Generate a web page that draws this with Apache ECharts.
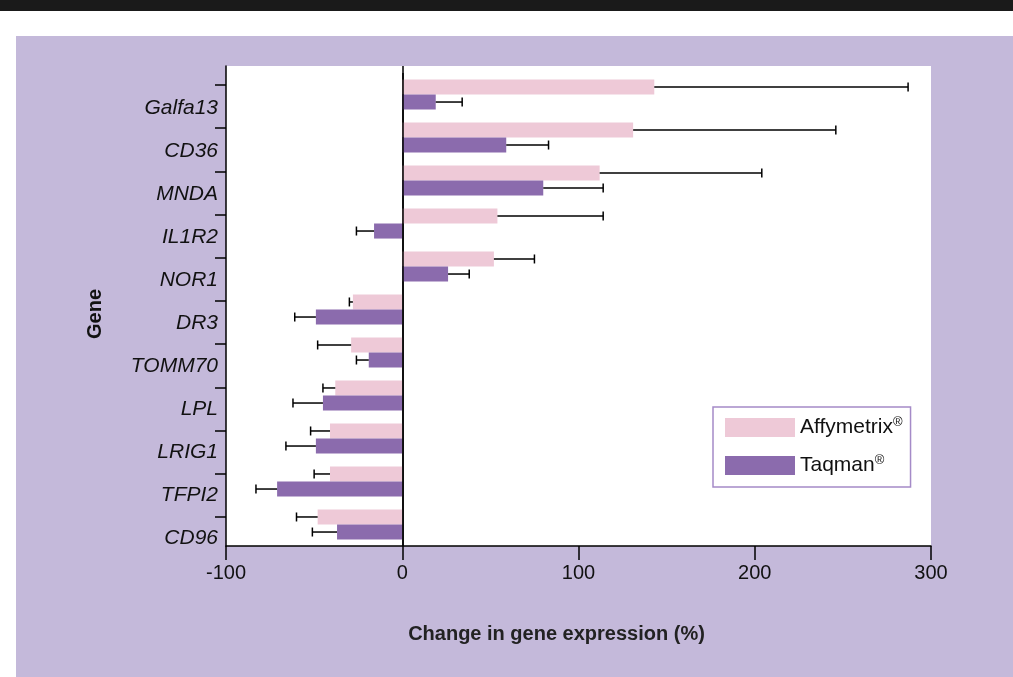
<!DOCTYPE html>
<html>
<head>
<meta charset="utf-8">
<script src="https://cdn.jsdelivr.net/npm/echarts@6/dist/echarts.min.js"></script>
<style>
  html, body { margin: 0; padding: 0; background: #ffffff; }
  #band { position: absolute; left: 0; top: 0; width: 1013px; height: 11px; background: #1a1a1a; }
  #panel { position: absolute; left: 16px; top: 36px; width: 997px; height: 641px; background: #c4b9da; }
  #chart { position: absolute; left: 0; top: 0; width: 1013px; height: 677px; }
</style>
</head>
<body>
<div id="band"></div>
<div id="panel"></div>
<div id="chart"></div>
<script>
// ---- data ----
const genes = ['Galfa13', 'CD36', 'MNDA', 'IL1R2', 'NOR1', 'DR3', 'TOMM70', 'LPL', 'LRIG1', 'TFPI2', 'CD96'];
const seriesNames = ['Affymetrix®', 'Taqman®'];
const affyValues = [143, 131, 112, 54, 52, -28, -29, -38, -41, -41, -48];
const affyErrors = [144, 115, 92, 60, 23, 2, 19, 7, 11, 9, 12];
const taqValues  = [19, 59, 80, -16, 26, -49, -19, -45, -49, -71, -37];
const taqErrors  = [15, 24, 34, 10, 12, 12, 7, 17, 17, 12, 14];
const xTicks = [-100, 0, 100, 200, 300];

// ---- styles ----
const PINK = '#eec9d7';
const PURPLE = '#8b6bad';
const FONT = 'Liberation Sans, Arial, Helvetica, sans-serif';
const CAT_GAP = 0.30;

function errData(values, errors, side) {
  return values.map((v, i) => [i, v, errors[i], side]);
}

function renderErr(params, api) {
  const cat = api.value(0);
  const v = api.value(1);
  const e = api.value(2);
  const side = api.value(3);
  const dir = v < 0 ? -1 : 1;
  const p0 = api.coord([v, cat]);
  const p1 = api.coord([v + dir * e, cat]);
  const band = api.size([0, 1])[1];
  const bw = band * (1 - CAT_GAP) / 2;
  const y = p0[1] + side * bw / 2;
  const style = { stroke: '#000', lineWidth: 1.5 };
  return {
    type: 'group',
    children: [
      { type: 'line', shape: { x1: p0[0], y1: y, x2: p1[0], y2: y }, style: style },
      { type: 'line', shape: { x1: p1[0], y1: y - 4.5, x2: p1[0], y2: y + 4.5 }, style: style }
    ]
  };
}

const chart = echarts.init(document.getElementById('chart'), null, { renderer: 'canvas' });

const option = {
  backgroundColor: 'transparent',
  animation: false,
  textStyle: { fontFamily: FONT },
  grid: [
    { left: 226, top: 66, width: 705, height: 480, show: true, backgroundColor: '#ffffff', borderWidth: 0 },
    { left: 226, top: 73, width: 705, height: 473 },
    { left: 226, top: 85, width: 705, height: 432 },
    { left: 226, top: 87, width: 705, height: 473 }
  ],
  xAxis: [
    {
      gridIndex: 0, type: 'value', min: xTicks[0], max: xTicks[xTicks.length - 1], interval: 100,
      axisLine: { show: true, onZero: false, lineStyle: { color: '#000', width: 1.5 } },
      axisTick: { show: true, inside: false, length: 14, lineStyle: { color: '#000', width: 1.5 } },
      axisLabel: { color: '#111', fontSize: 20, margin: 17, fontFamily: FONT },
      splitLine: { show: true, lineStyle: { color: ['transparent', '#000', 'transparent', 'transparent', 'transparent'], width: 1.5 } },
      name: 'Change in gene expression (%)', nameLocation: 'middle', nameGap: 78,
      nameTextStyle: { fontSize: 20, fontWeight: 'bold', color: '#222', fontFamily: FONT, padding: [0, 44, 0, 0] }
    },
    { gridIndex: 1, type: 'value', min: xTicks[0], max: xTicks[xTicks.length - 1], show: false },
    { gridIndex: 2, type: 'value', min: 0, max: 1, show: false },
    { gridIndex: 3, type: 'value', min: 0, max: 1, show: false }
  ],
  yAxis: [
    {
      gridIndex: 0, type: 'value', min: 0, max: 1,
      axisLine: { show: true, onZero: false, lineStyle: { color: '#000', width: 1.5 } },
      axisTick: { show: false }, axisLabel: { show: false }, splitLine: { show: false },
      name: 'Gene', nameLocation: 'middle', nameGap: 121, nameRotate: 90,
      nameTextStyle: { fontSize: 20, fontWeight: 'bold', color: '#111', fontFamily: FONT, padding: [0, 16, 0, 0] }
    },
    {
      gridIndex: 1, type: 'category', data: genes, inverse: true,
      axisLine: { show: false }, axisTick: { show: false }, axisLabel: { show: false }
    },
    {
      gridIndex: 2, type: 'category', data: genes, inverse: true, boundaryGap: false,
      axisLine: { show: false },
      axisTick: { show: true, inside: false, length: 11, interval: 0, lineStyle: { color: '#000', width: 1.5 } },
      axisLabel: { show: false }
    },
    {
      gridIndex: 3, type: 'category', data: genes, inverse: true,
      axisLine: { show: false }, axisTick: { show: false },
      axisLabel: { fontSize: 21, fontStyle: 'italic', color: '#111', margin: 8, interval: 0, fontFamily: FONT }
    }
  ],
  legend: {
    orient: 'vertical', left: 713, top: 407,
    padding: [9, 8, 11, 12],
    itemWidth: 70, itemHeight: 19, itemGap: 16, itemTextGap: 4,
    backgroundColor: '#ffffff', borderColor: '#a58bc8', borderWidth: 1.5,
    icon: 'rect',
    data: seriesNames,
    formatter: function (name) {
      return '{a|' + name.replace('®', '') + '}{s|®}';
    },
    textStyle: {
      color: '#111', fontFamily: FONT,
      rich: {
        a: { fontSize: 21, fontFamily: FONT, color: '#111' },
        s: { fontSize: 13, fontFamily: FONT, color: '#111', padding: [0, 0, 10, 0] }
      }
    }
  },
  series: [
    {
      name: seriesNames[0], type: 'bar', xAxisIndex: 1, yAxisIndex: 1,
      data: affyValues, itemStyle: { color: PINK },
      barGap: '0%', barCategoryGap: (CAT_GAP * 100) + '%', z: 2
    },
    {
      name: seriesNames[1], type: 'bar', xAxisIndex: 1, yAxisIndex: 1,
      data: taqValues, itemStyle: { color: PURPLE },
      barGap: '0%', barCategoryGap: (CAT_GAP * 100) + '%', z: 2,
      markLine: {
        silent: true, symbol: 'none', label: { show: false },
        lineStyle: { color: '#000', width: 1.5, type: 'solid' },
        data: [{ xAxis: 0 }]
      }
    },
    {
      type: 'custom', xAxisIndex: 1, yAxisIndex: 1, renderItem: renderErr,
      encode: { x: 1, y: 0 }, data: errData(affyValues, affyErrors, -1), z: 3, silent: true
    },
    {
      type: 'custom', xAxisIndex: 1, yAxisIndex: 1, renderItem: renderErr,
      encode: { x: 1, y: 0 }, data: errData(taqValues, taqErrors, 1), z: 3, silent: true
    }
  ]
};

chart.setOption(option);
</script>
</body>
</html>
